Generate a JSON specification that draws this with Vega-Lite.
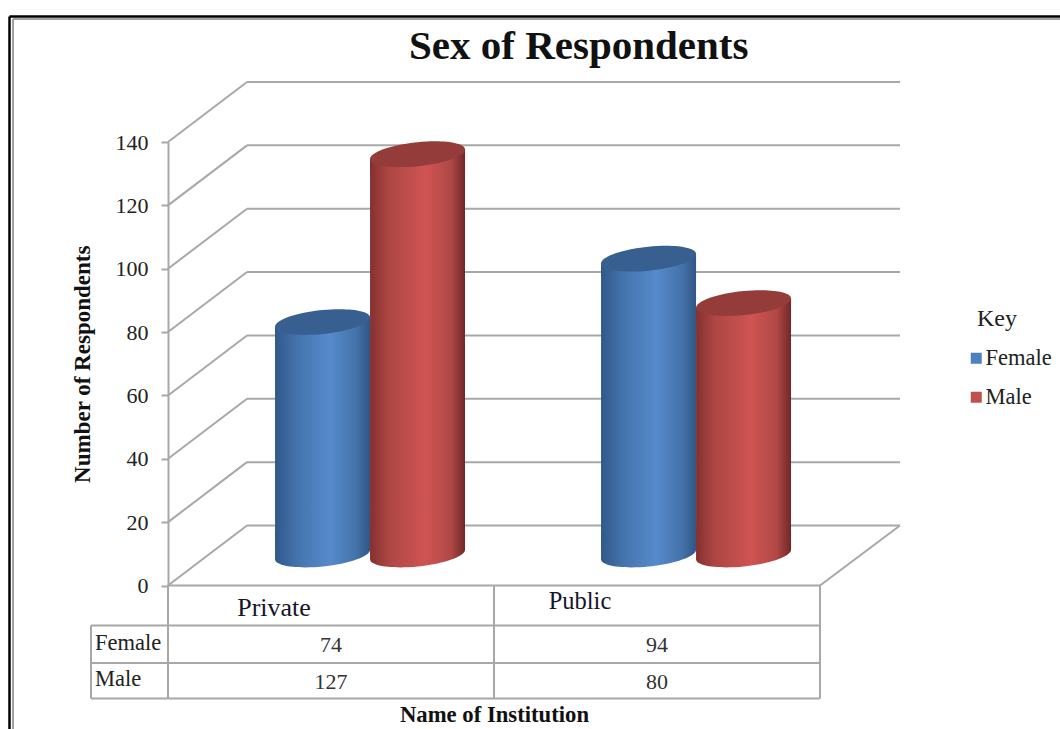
{
  "$schema": "https://vega.github.io/schema/vega-lite/v6.json",
  "autosize": {"type": "none"},
  "padding": {"left": 168, "top": 142, "right": 240, "bottom": 143.5},
  "width": 652,
  "height": 443.5,
  "background": "white",
  "title": {"text": "Sex of Respondents", "font": "Liberation Serif", "fontSize": 41, "fontWeight": "bold", "color": "#111111", "anchor": "start", "frame": "group", "dx": 241, "baseline": "bottom", "offset": -94},
  "datasets": {
    "respondents": [
      {"institution": "Private", "series": "Female", "count": 74},
      {"institution": "Private", "series": "Male", "count": 127},
      {"institution": "Public", "series": "Female", "count": 94},
      {"institution": "Public", "series": "Male", "count": 80}
    ],
    "ticks": [{"tick": 0}, {"tick": 20}, {"tick": 40}, {"tick": 60}, {"tick": 80}, {"tick": 100}, {"tick": 120}, {"tick": 140}]
  },
  "config": {"view": {"stroke": null}},
  "resolve": {"scale": {"x": "independent"}},
  "layer": [
    {
      "description": "Outer picture frame, black with a grey inner shadow",
      "data": {"values": [{"a": 0}]},
      "mark": {"type": "rule", "color": "#a0a0a0", "strokeWidth": 2, "xOffset": -155, "x2Offset": 240, "yOffset": -123},
      "encoding": {"x": {"datum": 0, "type": "quantitative", "scale": {"domain": [0, 1]}, "axis": null}, "x2": {"datum": 1}, "y": {"datum": 140, "type": "quantitative", "scale": {"domain": [0, 140], "nice": false}}}
    },
    {
      "data": {"values": [{"a": 0}]},
      "mark": {"type": "rule", "color": "#a0a0a0", "strokeWidth": 2, "xOffset": -155, "yOffset": -123, "y2Offset": 144},
      "encoding": {"x": {"datum": 0, "type": "quantitative", "scale": {"domain": [0, 1]}, "axis": null}, "y": {"datum": 140, "type": "quantitative"}, "y2": {"datum": 0}}
    },
    {
      "data": {"values": [{"a": 0}]},
      "mark": {"type": "rule", "color": "#000000", "strokeWidth": 2.5, "xOffset": -158.5, "x2Offset": 240, "yOffset": -125.5},
      "encoding": {"x": {"datum": 0, "type": "quantitative", "scale": {"domain": [0, 1]}, "axis": null}, "x2": {"datum": 1}, "y": {"datum": 140, "type": "quantitative"}}
    },
    {
      "data": {"values": [{"a": 0}]},
      "mark": {"type": "rule", "color": "#000000", "strokeWidth": 2.5, "xOffset": -158.5, "yOffset": -125.5, "y2Offset": 144},
      "encoding": {"x": {"datum": 0, "type": "quantitative", "scale": {"domain": [0, 1]}, "axis": null}, "y": {"datum": 140, "type": "quantitative"}, "y2": {"datum": 0}}
    },
    {
      "description": "Back wall gridlines",
      "data": {"name": "ticks"},
      "mark": {"type": "rule", "color": "#a8a8a8", "strokeWidth": 2, "xOffset": 79, "x2Offset": 80, "yOffset": -60},
      "encoding": {
        "x": {"datum": 0, "type": "quantitative", "scale": {"domain": [0, 1]}, "axis": null},
        "x2": {"datum": 1},
        "y": {"field": "tick", "type": "quantitative", "scale": {"domain": [0, 140], "nice": false},
          "axis": {"title": "Number of Respondents", "values": [0, 20, 40, 60, 80, 100, 120, 140], "grid": false, "domainColor": "#a8a8a8", "domainWidth": 2, "tickColor": "#a8a8a8", "tickWidth": 2, "tickSize": 7, "labelFont": "Liberation Serif", "labelFontSize": 22, "labelColor": "#222222", "labelPadding": 13, "titleFont": "Liberation Serif", "titleFontSize": 23, "titleFontWeight": "bold", "titleColor": "#111111", "titlePadding": 21}}
      }
    },
    {
      "description": "Side wall diagonals running back from the value axis",
      "data": {"name": "ticks"},
      "mark": {"type": "rule", "color": "#a8a8a8", "strokeWidth": 2, "x2Offset": 79, "y2Offset": -60},
      "encoding": {
        "x": {"datum": 0, "type": "quantitative", "scale": {"domain": [0, 1]}, "axis": null},
        "x2": {"datum": 0},
        "y": {"field": "tick", "type": "quantitative"},
        "y2": {"field": "tick"}
      }
    },
    {
      "description": "Right floor edge",
      "data": {"values": [{"a": 0}]},
      "mark": {"type": "rule", "color": "#a8a8a8", "strokeWidth": 2, "x2Offset": 80, "y2Offset": -60},
      "encoding": {
        "x": {"datum": 1, "type": "quantitative", "scale": {"domain": [0, 1]}, "axis": null},
        "x2": {"datum": 1},
        "y": {"datum": 0, "type": "quantitative"},
        "y2": {"datum": 0}
      }
    },
    {
      "description": "Table horizontals: header top, header bottom, row divider, bottom",
      "data": {"values": [{"a": 0}]},
      "mark": {"type": "rule", "color": "#a8a8a8", "strokeWidth": 2},
      "encoding": {"x": {"datum": 0, "type": "quantitative", "scale": {"domain": [0, 1]}, "axis": null}, "x2": {"datum": 1}, "y": {"datum": 0, "type": "quantitative"}}
    },
    {
      "data": {"values": [{"a": 0}]},
      "mark": {"type": "rule", "color": "#a8a8a8", "strokeWidth": 2, "xOffset": -77, "yOffset": 40},
      "encoding": {"x": {"datum": 0, "type": "quantitative", "scale": {"domain": [0, 1]}, "axis": null}, "x2": {"datum": 1}, "y": {"datum": 0, "type": "quantitative"}}
    },
    {
      "data": {"values": [{"a": 0}]},
      "mark": {"type": "rule", "color": "#a8a8a8", "strokeWidth": 2, "xOffset": -77, "x2Offset": 0, "yOffset": 77.5},
      "encoding": {"x": {"datum": 0, "type": "quantitative", "scale": {"domain": [0, 1]}, "axis": null}, "x2": {"datum": 1}, "y": {"datum": 0, "type": "quantitative"}}
    },
    {
      "data": {"values": [{"a": 0}]},
      "mark": {"type": "rule", "color": "#a8a8a8", "strokeWidth": 2, "xOffset": -77, "yOffset": 113},
      "encoding": {"x": {"datum": 0, "type": "quantitative", "scale": {"domain": [0, 1]}, "axis": null}, "x2": {"datum": 1}, "y": {"datum": 0, "type": "quantitative"}}
    },
    {
      "description": "Table verticals at the axis, the category divider and the right edge",
      "data": {"values": [{"pos": 0}, {"pos": 0.5}, {"pos": 1}]},
      "mark": {"type": "rule", "color": "#a8a8a8", "strokeWidth": 2, "y2Offset": 113},
      "encoding": {"x": {"field": "pos", "type": "quantitative", "scale": {"domain": [0, 1]}, "axis": null}, "y": {"datum": 0, "type": "quantitative"}, "y2": {"datum": 0}}
    },
    {
      "description": "Left edge of the row header column",
      "data": {"values": [{"a": 0}]},
      "mark": {"type": "rule", "color": "#a8a8a8", "strokeWidth": 2, "xOffset": -77, "yOffset": 40, "y2Offset": 113},
      "encoding": {"x": {"datum": 0, "type": "quantitative", "scale": {"domain": [0, 1]}, "axis": null}, "y": {"datum": 0, "type": "quantitative"}, "y2": {"datum": 0}}
    },
    {
      "description": "Invisible layer that carries the flat-coloured key",
      "data": {"name": "respondents"},
      "mark": {"type": "point", "filled": true, "opacity": 0},
      "encoding": {
        "x": {"field": "institution", "type": "nominal", "axis": null},
        "y": {"datum": 0, "type": "quantitative"},
        "color": {"field": "series", "type": "nominal", "scale": {"domain": ["Female", "Male"], "range": ["#4f81bd", "#c0504d"]},
          "legend": {"title": null, "orient": "none", "legendX": 797, "legendY": 205, "symbolType": "square", "symbolSize": 121, "symbolOpacity": 1, "symbolStrokeWidth": 0, "labelFont": "Liberation Serif", "labelFontSize": 22.5, "labelColor": "#222222", "labelOffset": -2, "rowPadding": 16, "padding": 0}}
      }
    },
    {
      "description": "Heading of the key",
      "data": {"values": [{"label": "Key"}]},
      "mark": {"type": "text", "font": "Liberation Serif", "fontSize": 24, "color": "#222222", "xOffset": 177, "yOffset": 177},
      "encoding": {"x": {"datum": 1, "type": "quantitative", "scale": {"domain": [0, 1]}, "axis": null}, "y": {"datum": 140, "type": "quantitative"}, "text": {"field": "label"}}
    },
    {
      "description": "Cylinder bodies",
      "data": {"name": "respondents"},
      "mark": {"type": "bar", "yOffset": -23, "y2Offset": -37},
      "encoding": {
        "x": {"field": "institution", "type": "nominal", "scale": {"type": "band", "domain": ["Private", "Public"], "paddingInner": 0, "paddingOuter": 0},
          "axis": {"title": "Name of Institution", "orient": "bottom", "labels": false, "ticks": false, "domain": false, "grid": false, "titleFont": "Liberation Serif", "titleFontSize": 22.7, "titleFontWeight": "bold", "titleColor": "#111111", "titlePadding": 118}},
        "xOffset": {"field": "series", "type": "nominal", "scale": {"type": "band", "domain": ["Female", "Male"], "paddingInner": 0, "paddingOuter": 0.716, "align": 0.787}},
        "y": {"field": "count", "type": "quantitative", "stack": null},
        "y2": {"datum": 0},
        "fill": {"condition": {"test": "datum.series === 'Female'", "value": {"gradient": "linear", "x1": 0, "y1": 0, "x2": 1, "y2": 0, "stops": [{"offset": 0, "color": "#30598a"}, {"offset": 0.25, "color": "#4575ae"}, {"offset": 0.58, "color": "#568acb"}, {"offset": 0.85, "color": "#4473aa"}, {"offset": 1, "color": "#2f5685"}]}},
          "value": {"gradient": "linear", "x1": 0, "y1": 0, "x2": 1, "y2": 0, "stops": [{"offset": 0, "color": "#84312f"}, {"offset": 0.2, "color": "#ad4644"}, {"offset": 0.58, "color": "#cf5452"}, {"offset": 0.85, "color": "#b04846"}, {"offset": 1, "color": "#702827"}]}}
      }
    },
    {
      "description": "Rounded bottom of each cylinder",
      "data": {"name": "respondents"},
      "mark": {"type": "point", "filled": true, "opacity": 1, "strokeWidth": 0, "size": 9025, "yOffset": -31, "shape": "M-1,-0.5 L1,-0.5 L1,-0.1 A1,0.25 -6 0 1 -1,0.1 Z"},
      "encoding": {
        "x": {"field": "institution", "type": "nominal", "scale": {"type": "band", "domain": ["Private", "Public"], "paddingInner": 0, "paddingOuter": 0}, "axis": null},
        "xOffset": {"field": "series", "type": "nominal", "scale": {"type": "band", "domain": ["Female", "Male"], "paddingInner": 0, "paddingOuter": 0.716, "align": 0.787}},
        "y": {"datum": 0, "type": "quantitative"},
        "fill": {"condition": {"test": "datum.series === 'Female'", "value": {"gradient": "linear", "x1": 0, "y1": 0, "x2": 1, "y2": 0, "stops": [{"offset": 0, "color": "#30598a"}, {"offset": 0.25, "color": "#4575ae"}, {"offset": 0.58, "color": "#568acb"}, {"offset": 0.85, "color": "#4473aa"}, {"offset": 1, "color": "#2f5685"}]}},
          "value": {"gradient": "linear", "x1": 0, "y1": 0, "x2": 1, "y2": 0, "stops": [{"offset": 0, "color": "#84312f"}, {"offset": 0.2, "color": "#ad4644"}, {"offset": 0.58, "color": "#cf5452"}, {"offset": 0.85, "color": "#b04846"}, {"offset": 1, "color": "#702827"}]}}
      }
    },
    {
      "description": "Slanted top shoulder of each cylinder body",
      "data": {"name": "respondents"},
      "mark": {"type": "point", "filled": true, "opacity": 1, "strokeWidth": 0, "size": 9025, "yOffset": -29, "shape": "M-1,0.1 L1,-0.1 L1,0.4 L-1,0.4 Z"},
      "encoding": {
        "x": {"field": "institution", "type": "nominal", "scale": {"type": "band", "domain": ["Private", "Public"], "paddingInner": 0, "paddingOuter": 0}, "axis": null},
        "xOffset": {"field": "series", "type": "nominal", "scale": {"type": "band", "domain": ["Female", "Male"], "paddingInner": 0, "paddingOuter": 0.716, "align": 0.787}},
        "y": {"field": "count", "type": "quantitative"},
        "fill": {"condition": {"test": "datum.series === 'Female'", "value": {"gradient": "linear", "x1": 0, "y1": 0, "x2": 1, "y2": 0, "stops": [{"offset": 0, "color": "#30598a"}, {"offset": 0.25, "color": "#4575ae"}, {"offset": 0.58, "color": "#568acb"}, {"offset": 0.85, "color": "#4473aa"}, {"offset": 1, "color": "#2f5685"}]}},
          "value": {"gradient": "linear", "x1": 0, "y1": 0, "x2": 1, "y2": 0, "stops": [{"offset": 0, "color": "#84312f"}, {"offset": 0.2, "color": "#ad4644"}, {"offset": 0.58, "color": "#cf5452"}, {"offset": 0.85, "color": "#b04846"}, {"offset": 1, "color": "#702827"}]}}
      }
    },
    {
      "description": "Darker top cap of each cylinder",
      "data": {"name": "respondents"},
      "mark": {"type": "point", "filled": true, "strokeWidth": 0, "opacity": 1, "size": 9025, "yOffset": -29, "shape": "M-1,0.1 A1,0.25 -6 1 1 1,-0.1 A1,0.25 -6 1 1 -1,0.1 Z"},
      "encoding": {
        "x": {"field": "institution", "type": "nominal", "scale": {"type": "band", "domain": ["Private", "Public"], "paddingInner": 0, "paddingOuter": 0}, "axis": null},
        "xOffset": {"field": "series", "type": "nominal", "scale": {"type": "band", "domain": ["Female", "Male"], "paddingInner": 0, "paddingOuter": 0.716, "align": 0.787}},
        "y": {"field": "count", "type": "quantitative"},
        "fill": {"condition": {"test": "datum.series === 'Female'", "value": "#375f90"}, "value": "#943c3a"}
      }
    },
    {
      "description": "Category label, Private",
      "data": {"name": "respondents"},
      "transform": [{"filter": "datum.institution === 'Private' && datum.series === 'Female'"}],
      "mark": {"type": "text", "font": "Liberation Serif", "fontSize": 26, "color": "#15152a", "xOffset": -57, "yOffset": 22},
      "encoding": {"x": {"field": "institution", "type": "nominal", "scale": {"type": "band", "domain": ["Private", "Public"], "paddingInner": 0, "paddingOuter": 0}, "axis": null}, "y": {"datum": 0, "type": "quantitative"}, "text": {"field": "institution"}}
    },
    {
      "description": "Category label, Public",
      "data": {"name": "respondents"},
      "transform": [{"filter": "datum.institution === 'Public' && datum.series === 'Female'"}],
      "mark": {"type": "text", "font": "Liberation Serif", "fontSize": 24.5, "color": "#15152a", "xOffset": -77, "yOffset": 16},
      "encoding": {"x": {"field": "institution", "type": "nominal", "scale": {"type": "band", "domain": ["Private", "Public"], "paddingInner": 0, "paddingOuter": 0}, "axis": null}, "y": {"datum": 0, "type": "quantitative"}, "text": {"field": "institution"}}
    },
    {
      "description": "Data table, Female row",
      "data": {"name": "respondents"},
      "transform": [{"filter": "datum.series === 'Female'"}],
      "mark": {"type": "text", "font": "Liberation Serif", "fontSize": 22, "color": "#333333", "yOffset": 59},
      "encoding": {"x": {"field": "institution", "type": "nominal", "scale": {"type": "band", "domain": ["Private", "Public"], "paddingInner": 0, "paddingOuter": 0}, "axis": null}, "y": {"datum": 0, "type": "quantitative"}, "text": {"field": "count", "type": "quantitative"}}
    },
    {
      "description": "Data table, Male row",
      "data": {"name": "respondents"},
      "transform": [{"filter": "datum.series === 'Male'"}],
      "mark": {"type": "text", "font": "Liberation Serif", "fontSize": 22, "color": "#333333", "yOffset": 96},
      "encoding": {"x": {"field": "institution", "type": "nominal", "scale": {"type": "band", "domain": ["Private", "Public"], "paddingInner": 0, "paddingOuter": 0}, "axis": null}, "y": {"datum": 0, "type": "quantitative"}, "text": {"field": "count", "type": "quantitative"}}
    },
    {
      "description": "Row header, Female",
      "data": {"values": [{"label": "Female"}]},
      "mark": {"type": "text", "font": "Liberation Serif", "fontSize": 22.5, "color": "#222222", "align": "left", "xOffset": -73, "yOffset": 57},
      "encoding": {"x": {"datum": 0, "type": "quantitative", "scale": {"domain": [0, 1]}, "axis": null}, "y": {"datum": 0, "type": "quantitative"}, "text": {"field": "label"}}
    },
    {
      "description": "Row header, Male",
      "data": {"values": [{"label": "Male"}]},
      "mark": {"type": "text", "font": "Liberation Serif", "fontSize": 22.5, "color": "#222222", "align": "left", "xOffset": -73, "yOffset": 93},
      "encoding": {"x": {"datum": 0, "type": "quantitative", "scale": {"domain": [0, 1]}, "axis": null}, "y": {"datum": 0, "type": "quantitative"}, "text": {"field": "label"}}
    }
  ]
}
